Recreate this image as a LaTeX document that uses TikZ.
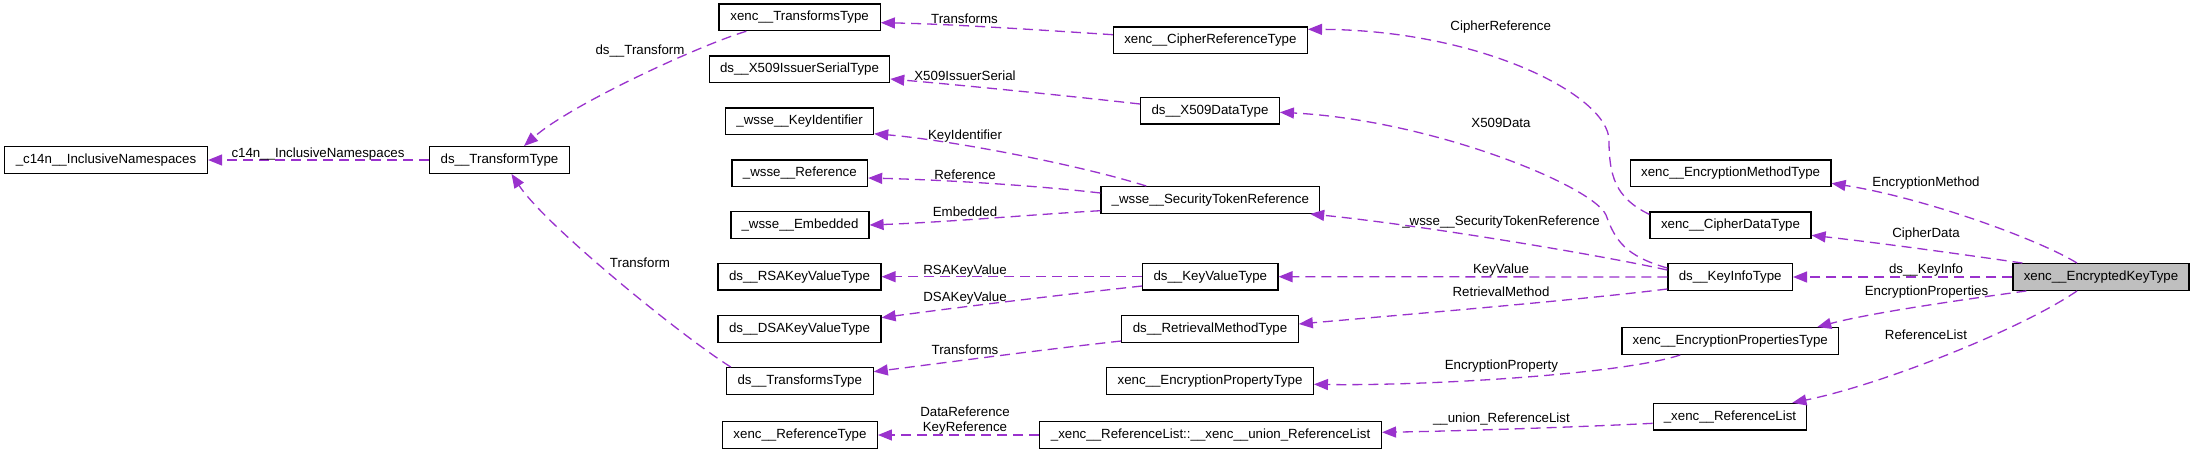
\documentclass[tikz,border=0pt]{standalone}
\usepackage{fontspec}
\setmainfont{Liberation Sans}
\usetikzlibrary{arrows.meta,calc}
\definecolor{edgecol}{HTML}{9A32CD}
\definecolor{boxgray}{HTML}{BFBFBF}
\tikzset{
  box/.style={draw=black, line width=1.2pt, inner sep=0pt, minimum height=26.7pt, fill=white,
    font=\fontsize{13.3}{16}\selectfont, anchor=center},
  lbl/.style={inner sep=0pt, font=\fontsize{13.3}{16}\selectfont, anchor=center},
  edge/.style={draw=edgecol, line width=1.3pt, dash pattern=on 10pt off 6pt,
    -{Triangle[length=14pt,width=11pt]}},
}
\begin{document}
\begin{tikzpicture}[x=1pt,y=-1pt]
\useasboundingbox (0,0) rectangle (2195,456);
\fill[white] (0,0) rectangle (2195,456);
% nodes
\node[box, minimum width=203pt] (c14n) at (106,160) {\_c14n\_\_InclusiveNamespaces};
\node[box, minimum width=140pt] (tT) at (499.5,160) {ds\_\_TransformType};
\node[box, minimum width=161.4pt] (xTs) at (799.6,17.3) {xenc\_\_TransformsType};
\node[box, minimum width=180.3pt] (IS) at (799.5,69.3) {ds\_\_X509IssuerSerialType};
\node[box, minimum width=148pt] (KI) at (799.6,121.3) {\_wsse\_\_KeyIdentifier};
\node[box, minimum width=135.5pt] (WR) at (799.8,173.3) {\_wsse\_\_Reference};
\node[box, minimum width=138pt] (EMB) at (800,225) {\_wsse\_\_Embedded};
\node[box, minimum width=163pt] (RSA) at (799.5,276.7) {ds\_\_RSAKeyValueType};
\node[box, minimum width=163pt] (DSA) at (799.5,329) {ds\_\_DSAKeyValueType};
\node[box, minimum width=146.8pt] (dTs) at (799.8,381) {ds\_\_TransformsType};
\node[box, minimum width=154.7pt] (RT) at (800,435) {xenc\_\_ReferenceType};
\node[box, minimum width=194pt] (CR) at (1210.4,40.3) {xenc\_\_CipherReferenceType};
\node[box, minimum width=138.7pt] (XD) at (1210,110.7) {ds\_\_X509DataType};
\node[box, minimum width=218.6pt] (STR) at (1210.3,200) {\_wsse\_\_SecurityTokenReference};
\node[box, minimum width=135.3pt] (KV) at (1210.3,276.7) {ds\_\_KeyValueType};
\node[box, minimum width=176.5pt] (RM) at (1210,329) {ds\_\_RetrievalMethodType};
\node[box, minimum width=206.7pt] (EPT) at (1210,381) {xenc\_\_EncryptionPropertyType};
\node[box, minimum width=341.7pt] (URL) at (1210.6,435) {\_xenc\_\_ReferenceList::\_\_xenc\_\_union\_ReferenceList};
\node[box, minimum width=200.8pt] (EMT) at (1730.6,173.3) {xenc\_\_EncryptionMethodType};
\node[box, minimum width=161pt] (CD) at (1730.5,225.3) {xenc\_\_CipherDataType};
\node[box, minimum width=124.4pt] (KIT) at (1730.2,277) {ds\_\_KeyInfoType};
\node[box, minimum width=216.7pt] (EPs) at (1730.3,341) {xenc\_\_EncryptionPropertiesType};
\node[box, minimum width=153.6pt] (RL) at (1730,416.7) {\_xenc\_\_ReferenceList};
\node[box, minimum width=176pt, fill=boxgray] (EKT) at (2101,277) {xenc\_\_EncryptedKeyType};
% edges
\draw[edge] ($(EKT.north)+(-24,0)$) .. controls (2040,240) and (1925,198) .. ($(EMT.east)+(0,10)$);
\draw[edge] ($(EKT.north west)+(10,0)$) .. controls (1960,254) and (1880,243) .. ($(CD.east)+(0,10)$);
\draw[edge] (EKT.west) -- (KIT.east);
\draw[edge] ($(EKT.south west)+(14,0)$) .. controls (1960,300) and (1870,313) .. ($(EPs.north east)+(-22,0)$);
\draw[edge] ($(EKT.south)+(-24,0)$) .. controls (2020,330) and (1880,385) .. ($(RL.north east)+(-15,0)$);
\draw[edge] ($(CD.north west)+(0,3)$) .. controls (1615,198) and (1609,175) .. (1609,140)
  .. controls (1608,95) and (1480,30) .. ($(CR.east)+(0,-11)$);
\draw[edge] ($(KIT.north west)+(0,5)$) .. controls (1625,256) and (1615,240) .. (1606,215)
  .. controls (1592,185) and (1430,120) .. ($(XD.east)+(0,1.6)$);
\draw[edge] ($(KIT.north west)+(0,7)$) .. controls (1600,255) and (1420,225) .. ($(STR.south east)+(-10,0)$);
\draw[edge] (KIT.west) -- (KV.east);
\draw[edge] ($(KIT.south west)+(0,-2)$) .. controls (1580,300) and (1400,315) .. ($(RM.east)+(0,-5)$);
\draw[edge] ($(STR.north)+(-64,0)$) .. controls (1080,165) and (950,140) .. ($(KI.south east)+(0,-1.5)$);
\draw[edge] ($(STR.west)+(0,-7)$) .. controls (1040,186) and (950,180) .. ($(WR.east)+(0,4.7)$);
\draw[edge] ($(STR.west)+(0,10.7)$) .. controls (1040,214) and (950,222) .. (EMB.east);
\draw[edge] ($(XD.west)+(0,-6.7)$) .. controls (1060,95) and (960,85) .. ($(IS.east)+(0,9.7)$);
\draw[edge] ($(CR.west)+(0,-5.6)$) .. controls (1040,30) and (950,24) .. ($(xTs.east)+(0,5.4)$);
\draw[edge] ($(xTs.south west)+(28,0)$) .. controls (700,45) and (570,105) .. ($(tT.north)+(24.5,0)$);
\draw[edge] (tT.west) -- (c14n.east);
\draw[edge] ($(dTs.north west)+(5,0)$) .. controls (680,335) and (545,225) .. ($(tT.south)+(12,0)$);
\draw[edge] (KV.west) -- (RSA.east);
\draw[edge] ($(KV.west)+(0,9.3)$) .. controls (1060,295) and (960,307) .. ($(DSA.east)+(0,-11.3)$);
\draw[edge] ($(RM.west)+(0,12)$) .. controls (1040,350) and (950,362) .. ($(dTs.east)+(0,-9.3)$);
\draw[edge] ($(EPs.south)+(-50,0)$) .. controls (1620,375) and (1420,386) .. ($(EPT.east)+(0,3.3)$);
\draw[edge] ($(RL.west)+(0,6.6)$) .. controls (1580,427) and (1460,431) .. ($(URL.east)+(0,-2.7)$);
\draw[edge] (URL.west) -- (RT.east);
% labels
\node[lbl] (l1) at (1926,183) {EncryptionMethod};
\node[lbl] (l2) at (1926,234.3) {CipherData};
\node[lbl] (l3) at (1926,270.3) {ds\_\_KeyInfo};
\node[lbl] (l4) at (1926.5,291.7) {EncryptionProperties};
\node[lbl] (l5) at (1926,334.3) {ReferenceList};
\node[lbl] (l6) at (1500.7,26.7) {CipherReference};
\node[lbl] (l7) at (1501,122.7) {X509Data};
\node[lbl] (l8) at (1501,221.7) {\_wsse\_\_SecurityTokenReference};
\node[lbl] (l9) at (1501,270.3) {KeyValue};
\node[lbl] (l10) at (1501,291.7) {RetrievalMethod};
\node[lbl] (l11) at (1501.4,365.7) {EncryptionProperty};
\node[lbl] (l12) at (1501.4,419.3) {\_\_union\_ReferenceList};
\node[lbl] (l13) at (964.5,19) {Transforms};
\node[lbl] (l14) at (965,76) {X509IssuerSerial};
\node[lbl] (l15) at (965,136) {KeyIdentifier};
\node[lbl] (l16) at (965,175) {Reference};
\node[lbl] (l17) at (965,212) {Embedded};
\node[lbl] (l18) at (965,271) {RSAKeyValue};
\node[lbl] (l19) at (965,297.7) {DSAKeyValue};
\node[lbl] (l20) at (965,350) {Transforms};
\node[lbl] (l21) at (965,411.7) {DataReference};
\node[lbl] (l22) at (965,427.7) {KeyReference};
\node[lbl] (l23) at (640,50.7) {ds\_\_Transform};
\node[lbl] (l24) at (640,262.3) {Transform};
\node[lbl] (l25) at (318,154) {c14n\_\_InclusiveNamespaces};
\end{tikzpicture}
\end{document}
